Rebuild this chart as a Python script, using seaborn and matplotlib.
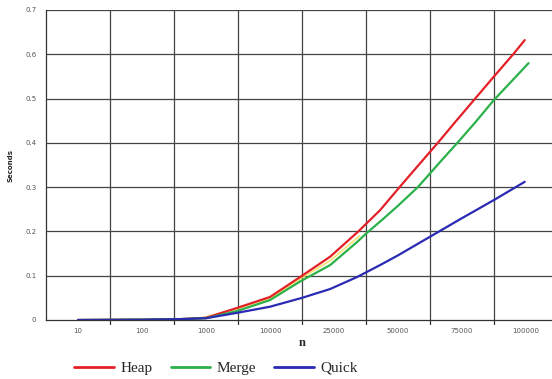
import matplotlib
matplotlib.use("Agg")
import matplotlib.pyplot as plt
import seaborn as sns
import pandas as pd
from matplotlib.lines import Line2D

categories = ["10", "100", "1000", "10000", "25000", "50000", "75000", "100000"]

heap_x = [0.0, 1.0, 1.6, 2.0, 2.48, 3.0, 3.47, 3.94, 4.38, 4.72, 5.06, 5.34, 5.61, 5.9, 6.2, 6.5, 6.8, 6.98]
heap_y = [0.0, 0.001, 0.002, 0.005, 0.027, 0.052, 0.097, 0.143, 0.200, 0.248, 0.306, 0.353, 0.398, 0.448, 0.499, 0.550, 0.600, 0.632]

merge_x = [0.0, 1.0, 1.6, 2.0, 2.48, 3.0, 3.47, 3.94, 4.36, 4.5, 4.75, 5.0, 5.31, 5.69, 5.94, 6.2, 6.5, 6.8, 7.04]
merge_y = [0.0, 0.001, 0.002, 0.004, 0.020, 0.045, 0.087, 0.124, 0.176, 0.195, 0.226, 0.258, 0.300, 0.362, 0.402, 0.445, 0.497, 0.543, 0.580]

quick_x = [0.0, 1.0, 1.6, 2.0, 2.48, 3.0, 3.5, 3.94, 4.36, 4.72, 5.0, 5.5, 6.0, 6.5, 6.98]
quick_y = [0.0, 0.0005, 0.002, 0.004, 0.016, 0.030, 0.050, 0.070, 0.097, 0.124, 0.146, 0.188, 0.230, 0.271, 0.312]

# faint yellow trace visible between Heap and Merge in the original
extra_x = [1.9, 2.0, 2.48, 3.0, 3.47, 3.94, 4.4]
extra_y = [0.003, 0.007, 0.025, 0.049, 0.093, 0.134, 0.190]

series = ["Heap", "Merge", "Quick"]
colors = {"Heap": "#e32028", "Merge": "#2bb04a", "Quick": "#2a2ab4", "extra": "#f2dc55"}

df = pd.concat([
    pd.DataFrame({"x": heap_x, "y": heap_y, "alg": "Heap"}),
    pd.DataFrame({"x": merge_x, "y": merge_y, "alg": "Merge"}),
    pd.DataFrame({"x": quick_x, "y": quick_y, "alg": "Quick"}),
], ignore_index=True)
df_extra = pd.DataFrame({"x": extra_x, "y": extra_y, "alg": "extra"})

sns.set_style("white")
fig = plt.figure(figsize=(5.52, 3.79), dpi=100)
ax = fig.add_axes([46/552, 1-320/379, (558-46)/552, (320-10)/379])

sns.lineplot(data=df_extra, x="x", y="y", color=colors["extra"], linewidth=1.3,
             ax=ax, sort=False, estimator=None, legend=False, alpha=0.8)
sns.lineplot(data=df, x="x", y="y", hue="alg", palette=colors, hue_order=series,
             linewidth=1.6, ax=ax, sort=False, estimator=None, legend=False)

ax.set_xlim(-0.5, 7.5)
ax.set_ylim(0, 0.7)
ax.set_yticks([0, 0.1, 0.2, 0.3, 0.4, 0.5, 0.6, 0.7])
ax.set_yticklabels(["0", "0.1", "0.2", "0.3", "0.4", "0.5", "0.6", "0.7"])
ax.set_xticks(range(len(categories)))
ax.set_xticklabels(categories)
ax.tick_params(axis="both", labelsize=5, colors="#555555", length=0, pad=6)
ax.tick_params(axis="y", length=3, pad=4, color="#333333", direction="out")

for yv in [0.1, 0.2, 0.3, 0.4, 0.5, 0.6, 0.7]:
    ax.axhline(yv, color="#444444", lw=0.9, zorder=0)
for i in range(len(categories)):
    ax.axvline(i + 0.5, color="#444444", lw=0.9, zorder=0)
    ax.plot([i + 0.5, i + 0.5], [0, -0.008], color="#333333", lw=0.9, clip_on=False)

for s in ["top", "right"]:
    ax.spines[s].set_visible(False)
for s in ["left", "bottom"]:
    ax.spines[s].set_color("#333333")
    ax.spines[s].set_linewidth(0.9)

ax.set_xlabel("n", fontsize=9, fontweight="bold", family="Liberation Serif", labelpad=2)
ax.set_ylabel("Seconds", fontsize=5, fontweight="bold", labelpad=8)

handles = [Line2D([0], [0], color=colors[s], lw=2) for s in series]
fig.legend(handles, series, loc="center", bbox_to_anchor=(216/552, 1-368/379), ncol=3,
           frameon=False, prop={"family": "Liberation Serif", "size": 11},
           handlelength=2.6, handletextpad=0.4, columnspacing=1.2)

fig.savefig("out.png", dpi=100)
